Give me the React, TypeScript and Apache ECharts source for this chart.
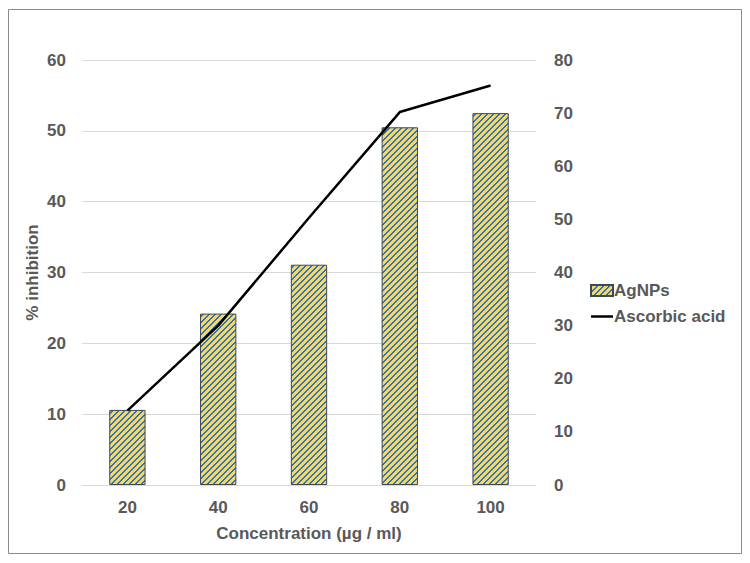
import React, { useEffect, useRef } from "react";
import * as echarts from "echarts";

const categories = ["20", "40", "60", "80", "100"];
const agnps = [10.6, 24.2, 31.1, 50.5, 52.5];
const ascorbic = [14.0, 30.0, 50.3, 70.2, 75.2];
const leftTicks = { min: 0, max: 60, interval: 10 };
const rightTicks = { min: 0, max: 80, interval: 10 };

function makeHatch(): string {
  const c = document.createElement("canvas");
  const n = 6;
  c.width = n;
  c.height = n;
  const ctx = c.getContext("2d")!;
  ctx.fillStyle = "#f4d76a";
  ctx.fillRect(0, 0, n, n);
  ctx.fillStyle = "#2f72b4";
  for (let x = 0; x < n; x++) {
    for (let y = 0; y < n; y++) {
      if ((x + y) % n < 2) ctx.fillRect(x, y, 1, 1);
    }
  }
  return c.toDataURL();
}

export default function App() {
  const ref = useRef<HTMLDivElement>(null);
  useEffect(() => {
    if (!ref.current) return;
    const chart = echarts.init(ref.current, undefined, { renderer: "svg" });
    const hatch = { image: makeHatch(), repeat: "repeat" } as any;
    const labelStyle = {
      color: "#595959",
      fontSize: 17,
      fontWeight: "bold" as const,
      fontFamily: "Liberation Sans, Arial, sans-serif",
    };
    chart.setOption({
      animation: false,
      backgroundColor: "#fff",
      graphic: [
        {
          type: "rect",
          shape: { x: 8.5, y: 9.5, width: 733, height: 544 },
          style: { fill: "none", stroke: "#8c8c8c", lineWidth: 1 },
          silent: true,
        },
      ],
      grid: { left: 82, right: 214, top: 60, bottom: 78 },
      legend: {
        orient: "vertical",
        left: 585,
        top: 277,
        itemWidth: 22,
        itemHeight: 11,
        itemGap: 9,
        textStyle: { ...labelStyle, fontSize: 17, padding: [0, 0, 0, -4] },
        data: [
          { name: "AgNPs", icon: "rect" },
          { name: "Ascorbic acid", icon: "path://M0,0 L22,0 L22,2.5 L0,2.5 Z" },
        ],
      },
      xAxis: {
        type: "category",
        data: categories,
        name: "Concentration (µg / ml)",
        nameLocation: "middle",
        nameGap: 40,
        nameTextStyle: { ...labelStyle, fontSize: 17 },
        axisLine: { lineStyle: { color: "#d9d9d9" } },
        axisTick: { show: false },
        axisLabel: { ...labelStyle, margin: 14 },
      },
      yAxis: [
        {
          type: "value",
          ...leftTicks,
          name: "% inhibition",
          nameLocation: "middle",
          nameGap: 41,
          nameMoveOverlap: false,
          nameRotate: 90,
          nameTextStyle: { ...labelStyle, fontSize: 17 },
          axisLine: { show: false },
          axisTick: { show: false },
          axisLabel: { ...labelStyle, margin: 16 },
          splitLine: { lineStyle: { color: "#d9d9d9" } },
        },
        {
          type: "value",
          ...rightTicks,
          position: "right",
          axisLine: { show: false },
          axisTick: { show: false },
          axisLabel: { ...labelStyle, margin: 18 },
          splitLine: { show: false },
        },
      ],
      series: [
        {
          name: "AgNPs",
          type: "bar",
          data: agnps,
          barWidth: "40%",
          itemStyle: { color: hatch, borderColor: "#3a4a5a", borderWidth: 1 },
        },
        {
          name: "Ascorbic acid",
          type: "line",
          yAxisIndex: 1,
          data: ascorbic,
          symbol: "none",
          lineStyle: { color: "#000", width: 2.5 },
          itemStyle: { color: "#000" },
        },
      ],
    });
    return () => chart.dispose();
  }, []);
  return (
    <div
      ref={ref}
      style={{ position: "fixed", left: 0, top: 0, width: 750, height: 563 }}
    />
  );
}
